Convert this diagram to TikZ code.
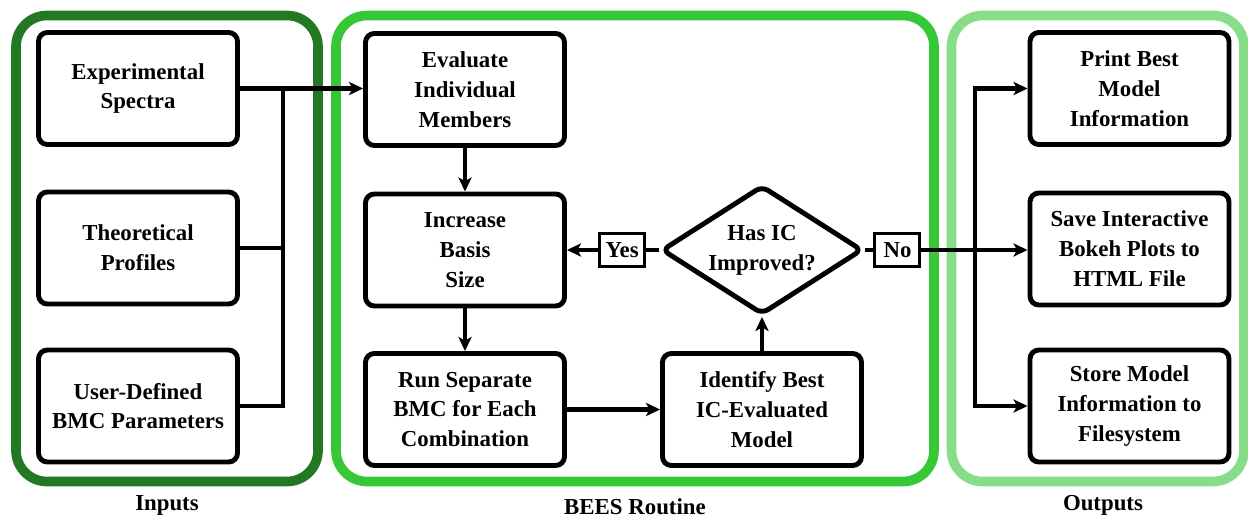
\documentclass[tikz,border=0pt]{standalone}
\usepackage{fontspec}
\setmainfont{Liberation Serif}
\usepackage{xcolor}
\usetikzlibrary{positioning,shapes.geometric,arrows.meta}

\definecolor{indark}{HTML}{237823}
\definecolor{beesgreen}{HTML}{37C837}
\definecolor{outlight}{HTML}{88DD88}

\begin{document}
\begin{tikzpicture}[x=0.02cm, y=-0.02cm,
    font=\fontsize{13}{17}\selectfont\bfseries,
    blk/.style={draw, rectangle, rounded corners=5pt, line width=2.8pt, align=center,
                minimum width=3.98cm, minimum height=2.24cm, inner sep=2pt},
    dia/.style={draw, diamond, rounded corners=4pt, line width=2.8pt,
                minimum width=4.02cm, minimum height=2.58cm, inner sep=0pt},
    lbl/.style={draw, rectangle, fill=white, line width=1.7pt, inner sep=0pt,
                minimum width=0.9cm, minimum height=0.66cm},
    cont/.style={line width=5.5pt, rounded corners=0.62cm},
    arr/.style={line width=2.3pt, -{Stealth[length=8pt, width=7.5pt, inset=2pt]}},
    ln/.style={line width=2.3pt}]
    \useasboundingbox (0,0) rectangle (1248,518);

    %gruppi
    \draw[cont, indark] (16,15.5) rectangle (318,481.5);
    \draw[cont, beesgreen] (336,15.5) rectangle (934,481.5);
    \draw[cont, outlight] (951.5,15.5) rectangle (1244,481.5);
    \node (inlab) at (167,505) {Inputs};
    \node (beeslab) at (635,507) {BEES Routine};
    \node (outlab) at (1103,505) {Outputs};

    %inputs
    \node[blk] (exp) at (138,88.5) {Experimental\\Spectra};
    \node[blk] (theo) at (138,248) {Theoretical\\Profiles};
    \node[blk] (user) at (138,406) {User-Defined\\BMC Parameters};

    %bees routine
    \node[blk] (eval) at (465,89.5) {Evaluate\\Individual\\Members};
    \node[blk] (inc) at (465,250) {Increase\\Basis\\Size};
    \node[blk] (run) at (465,409.5) {Run Separate\\BMC for Each\\Combination};
    \node[blk] (ident) at (762,409.5) {Identify Best\\IC-Evaluated\\Model};
    \node[dia] (ic) at (762,250) {};
    \node[align=center] (ictext) at (ic) {Has IC\\Improved?};

    %outputs
    \node[blk] (print) at (1129.5,88.5) {Print Best\\Model\\Information};
    \node[blk] (save) at (1129.5,249) {Save Interactive\\Bokeh Plots to\\HTML File};
    \node[blk] (store) at (1129.5,406) {Store Model\\Information to\\Filesystem};

    %frecce
    \coordinate (bus) at (283,88.5);
    \draw[arr] (exp.east) -- (exp.east -| eval.west);
    \draw[ln] (theo.east) -| (bus);
    \draw[ln] (user.east) -| (bus);
    \draw[arr] (eval) -- (inc);
    \draw[arr] (inc) -- (run);
    \draw[arr] (run) -- (ident);
    \draw[arr] (ident) -- (ic.south);
    \draw[arr] (ic.west) -- (inc.east) node[lbl, pos=0.4] (yes) {Yes};
    \draw[arr] (ic.east) -- (ic.east -| save.west) node[lbl, pos=0.2] (no) {No};
    \coordinate (split) at (975,250);
    \draw[arr] (split) |- (print.west);
    \draw[arr] (split) |- (store.west);
\end{tikzpicture}
\end{document}
